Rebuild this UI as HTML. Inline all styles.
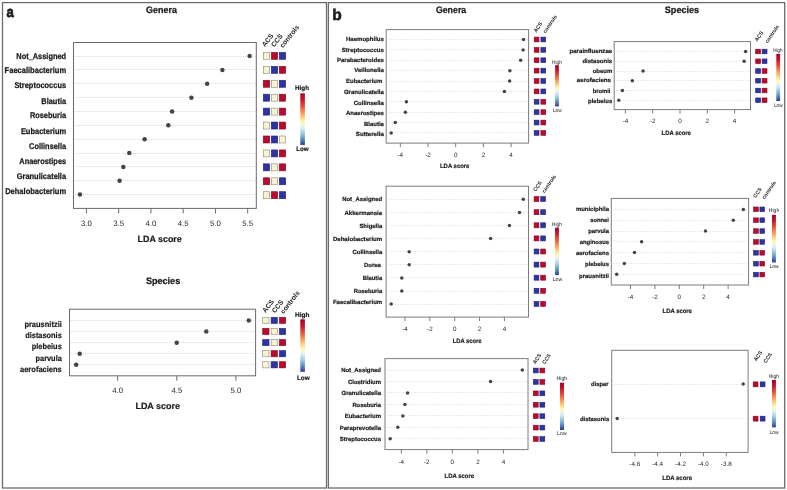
<!DOCTYPE html>
<html><head><meta charset="utf-8"><style>
html,body{margin:0;padding:0;background:#fff;}
body{width:787px;height:490px;overflow:hidden;}
svg{display:block;font-family:"Liberation Sans",sans-serif;will-change:transform;text-rendering:geometricPrecision;}
</style></head><body>
<svg width="787" height="490" viewBox="0 0 787 490" fill="#1a1a1a">
<defs><linearGradient id="grad" x1="0" y1="0" x2="0" y2="1">
<stop offset="0" stop-color="#a50026"/>
<stop offset="0.12" stop-color="#c8152b"/>
<stop offset="0.27" stop-color="#ec5a3a"/>
<stop offset="0.40" stop-color="#fca55d"/>
<stop offset="0.50" stop-color="#fedf8c"/>
<stop offset="0.58" stop-color="#fdfcc4"/>
<stop offset="0.66" stop-color="#dff1f5"/>
<stop offset="0.76" stop-color="#a5d2e5"/>
<stop offset="0.86" stop-color="#6aa0cb"/>
<stop offset="0.94" stop-color="#4369ae"/>
<stop offset="1" stop-color="#303692"/>
</linearGradient></defs>
<rect x="0" y="0" width="787" height="490" fill="#fff"/>
<rect x="2.5" y="2.6" width="324" height="485.4" fill="none" stroke="#6b6b6b" stroke-width="1.3"/>
<rect x="328.4" y="2.6" width="456.3" height="485.4" fill="none" stroke="#6b6b6b" stroke-width="1.3"/>
<text x="0" y="0" font-size="15.2" font-weight="bold" transform="translate(6.6 17.2) scale(0.86 1)" stroke="#1a1a1a" stroke-width="0.7">a</text>
<text x="332.2" y="19.8" font-size="15.6" stroke="#1a1a1a" stroke-width="0.5" font-weight="bold">b</text>
<text x="146.1" y="13.1" font-size="9.4" stroke="#1a1a1a" stroke-width="0.25" font-weight="bold" textLength="30.9" lengthAdjust="spacingAndGlyphs">Genera</text>
<text x="145.9" y="283.6" font-size="9.4" stroke="#1a1a1a" stroke-width="0.25" font-weight="bold" textLength="34.3" lengthAdjust="spacingAndGlyphs">Species</text>
<text x="435.9" y="12.7" font-size="9.4" stroke="#1a1a1a" stroke-width="0.25" font-weight="bold" textLength="30.3" lengthAdjust="spacingAndGlyphs">Genera</text>
<text x="664.8" y="12.7" font-size="9.4" stroke="#1a1a1a" stroke-width="0.25" font-weight="bold" textLength="34.3" lengthAdjust="spacingAndGlyphs">Species</text>
<line x1="75" y1="56.5" x2="255.8" y2="56.5" stroke="#dadada" stroke-width="1" stroke-dasharray="1 1"/>
<line x1="75" y1="69.5" x2="255.8" y2="69.5" stroke="#dadada" stroke-width="1" stroke-dasharray="1 1"/>
<line x1="75" y1="83.5" x2="255.8" y2="83.5" stroke="#dadada" stroke-width="1" stroke-dasharray="1 1"/>
<line x1="75" y1="97.5" x2="255.8" y2="97.5" stroke="#dadada" stroke-width="1" stroke-dasharray="1 1"/>
<line x1="75" y1="111.5" x2="255.8" y2="111.5" stroke="#dadada" stroke-width="1" stroke-dasharray="1 1"/>
<line x1="75" y1="125.5" x2="255.8" y2="125.5" stroke="#dadada" stroke-width="1" stroke-dasharray="1 1"/>
<line x1="75" y1="139.5" x2="255.8" y2="139.5" stroke="#dadada" stroke-width="1" stroke-dasharray="1 1"/>
<line x1="75" y1="153.5" x2="255.8" y2="153.5" stroke="#dadada" stroke-width="1" stroke-dasharray="1 1"/>
<line x1="75" y1="166.5" x2="255.8" y2="166.5" stroke="#dadada" stroke-width="1" stroke-dasharray="1 1"/>
<line x1="75" y1="180.5" x2="255.8" y2="180.5" stroke="#dadada" stroke-width="1" stroke-dasharray="1 1"/>
<line x1="75" y1="194.5" x2="255.8" y2="194.5" stroke="#dadada" stroke-width="1" stroke-dasharray="1 1"/>
<rect x="73.5" y="42.5" width="182.8" height="165.9" fill="none" stroke="#6a6a6a" stroke-width="1"/>
<circle cx="249.6" cy="56.1" r="2.25" fill="#454545"/>
<circle cx="222.4" cy="69.95" r="2.25" fill="#454545"/>
<circle cx="207.1" cy="83.8" r="2.25" fill="#454545"/>
<circle cx="191.4" cy="97.65" r="2.25" fill="#454545"/>
<circle cx="172.1" cy="111.5" r="2.25" fill="#454545"/>
<circle cx="168.3" cy="125.35" r="2.25" fill="#454545"/>
<circle cx="144.6" cy="139.2" r="2.25" fill="#454545"/>
<circle cx="129.3" cy="153.05" r="2.25" fill="#454545"/>
<circle cx="123.3" cy="166.9" r="2.25" fill="#454545"/>
<circle cx="119.6" cy="180.75" r="2.25" fill="#454545"/>
<circle cx="80" cy="194.6" r="2.25" fill="#454545"/>
<line x1="86.4" y1="208.4" x2="86.4" y2="213.4" stroke="#6a6a6a" stroke-width="1"/>
<text x="86.4" y="225.8" font-size="7.8" text-anchor="middle" fill="#2a2a2a">3.0</text>
<line x1="118.66" y1="208.4" x2="118.66" y2="213.4" stroke="#6a6a6a" stroke-width="1"/>
<text x="118.66" y="225.8" font-size="7.8" text-anchor="middle" fill="#2a2a2a">3.5</text>
<line x1="150.92" y1="208.4" x2="150.92" y2="213.4" stroke="#6a6a6a" stroke-width="1"/>
<text x="150.92" y="225.8" font-size="7.8" text-anchor="middle" fill="#2a2a2a">4.0</text>
<line x1="183.18" y1="208.4" x2="183.18" y2="213.4" stroke="#6a6a6a" stroke-width="1"/>
<text x="183.18" y="225.8" font-size="7.8" text-anchor="middle" fill="#2a2a2a">4.5</text>
<line x1="215.44" y1="208.4" x2="215.44" y2="213.4" stroke="#6a6a6a" stroke-width="1"/>
<text x="215.44" y="225.8" font-size="7.8" text-anchor="middle" fill="#2a2a2a">5.0</text>
<line x1="247.7" y1="208.4" x2="247.7" y2="213.4" stroke="#6a6a6a" stroke-width="1"/>
<text x="247.7" y="225.8" font-size="7.8" text-anchor="middle" fill="#2a2a2a">5.5</text>
<text x="137.6" y="241.6" font-size="9" stroke="#1a1a1a" stroke-width="0.2" font-weight="bold" textLength="44.2" lengthAdjust="spacingAndGlyphs">LDA score</text>
<text x="16.3" y="58.6" font-size="8.4" stroke="#1a1a1a" stroke-width="0.25" font-weight="bold" textLength="49.8" lengthAdjust="spacingAndGlyphs">Not_Assigned</text>
<text x="4.6" y="73.1" font-size="8.4" stroke="#1a1a1a" stroke-width="0.25" font-weight="bold" textLength="61.5" lengthAdjust="spacingAndGlyphs">Faecalibacterium</text>
<text x="14.4" y="88.2" font-size="8.4" stroke="#1a1a1a" stroke-width="0.25" font-weight="bold" textLength="51.7" lengthAdjust="spacingAndGlyphs">Streptococcus</text>
<text x="41.3" y="103.5" font-size="8.4" stroke="#1a1a1a" stroke-width="0.25" font-weight="bold" textLength="24.8" lengthAdjust="spacingAndGlyphs">Blautia</text>
<text x="29.9" y="118.4" font-size="8.4" stroke="#1a1a1a" stroke-width="0.25" font-weight="bold" textLength="36.2" lengthAdjust="spacingAndGlyphs">Roseburia</text>
<text x="20.9" y="133.8" font-size="8.4" stroke="#1a1a1a" stroke-width="0.25" font-weight="bold" textLength="45.2" lengthAdjust="spacingAndGlyphs">Eubacterium</text>
<text x="29.1" y="149" font-size="8.4" stroke="#1a1a1a" stroke-width="0.25" font-weight="bold" textLength="37" lengthAdjust="spacingAndGlyphs">Collinsella</text>
<text x="19.3" y="164.2" font-size="8.4" stroke="#1a1a1a" stroke-width="0.25" font-weight="bold" textLength="46.8" lengthAdjust="spacingAndGlyphs">Anaerostipes</text>
<text x="16.7" y="179.2" font-size="8.4" stroke="#1a1a1a" stroke-width="0.25" font-weight="bold" textLength="49.4" lengthAdjust="spacingAndGlyphs">Granulicatella</text>
<text x="5.2" y="194.2" font-size="8.4" stroke="#1a1a1a" stroke-width="0.25" font-weight="bold" textLength="60.9" lengthAdjust="spacingAndGlyphs">Dehalobacterium</text>
<rect x="263.3" y="52.4" width="6.4" height="7" fill="#f9f2d2" stroke="#8a8676" stroke-width="0.6"/>
<rect x="271.3" y="52.4" width="6.4" height="7" fill="#bd0a2c" stroke="#7d0a22" stroke-width="0.6"/>
<rect x="279.3" y="52.4" width="6.4" height="7" fill="#2e34a6" stroke="#1e2370" stroke-width="0.6"/>
<rect x="263.3" y="66.33" width="6.4" height="7" fill="#f9f2d2" stroke="#8a8676" stroke-width="0.6"/>
<rect x="271.3" y="66.33" width="6.4" height="7" fill="#2e34a6" stroke="#1e2370" stroke-width="0.6"/>
<rect x="279.3" y="66.33" width="6.4" height="7" fill="#bd0a2c" stroke="#7d0a22" stroke-width="0.6"/>
<rect x="263.3" y="80.26" width="6.4" height="7" fill="#bd0a2c" stroke="#7d0a22" stroke-width="0.6"/>
<rect x="271.3" y="80.26" width="6.4" height="7" fill="#f9f2d2" stroke="#8a8676" stroke-width="0.6"/>
<rect x="279.3" y="80.26" width="6.4" height="7" fill="#2e34a6" stroke="#1e2370" stroke-width="0.6"/>
<rect x="263.3" y="94.19" width="6.4" height="7" fill="#2e34a6" stroke="#1e2370" stroke-width="0.6"/>
<rect x="271.3" y="94.19" width="6.4" height="7" fill="#f9f2d2" stroke="#8a8676" stroke-width="0.6"/>
<rect x="279.3" y="94.19" width="6.4" height="7" fill="#bd0a2c" stroke="#7d0a22" stroke-width="0.6"/>
<rect x="263.3" y="108.12" width="6.4" height="7" fill="#2e34a6" stroke="#1e2370" stroke-width="0.6"/>
<rect x="271.3" y="108.12" width="6.4" height="7" fill="#f9f2d2" stroke="#8a8676" stroke-width="0.6"/>
<rect x="279.3" y="108.12" width="6.4" height="7" fill="#bd0a2c" stroke="#7d0a22" stroke-width="0.6"/>
<rect x="263.3" y="122.05" width="6.4" height="7" fill="#f9f2d2" stroke="#8a8676" stroke-width="0.6"/>
<rect x="271.3" y="122.05" width="6.4" height="7" fill="#2e34a6" stroke="#1e2370" stroke-width="0.6"/>
<rect x="279.3" y="122.05" width="6.4" height="7" fill="#bd0a2c" stroke="#7d0a22" stroke-width="0.6"/>
<rect x="263.3" y="135.98" width="6.4" height="7" fill="#bd0a2c" stroke="#7d0a22" stroke-width="0.6"/>
<rect x="271.3" y="135.98" width="6.4" height="7" fill="#2e34a6" stroke="#1e2370" stroke-width="0.6"/>
<rect x="279.3" y="135.98" width="6.4" height="7" fill="#f9f2d2" stroke="#8a8676" stroke-width="0.6"/>
<rect x="263.3" y="149.91" width="6.4" height="7" fill="#f9f2d2" stroke="#8a8676" stroke-width="0.6"/>
<rect x="271.3" y="149.91" width="6.4" height="7" fill="#2e34a6" stroke="#1e2370" stroke-width="0.6"/>
<rect x="279.3" y="149.91" width="6.4" height="7" fill="#bd0a2c" stroke="#7d0a22" stroke-width="0.6"/>
<rect x="263.3" y="163.84" width="6.4" height="7" fill="#2e34a6" stroke="#1e2370" stroke-width="0.6"/>
<rect x="271.3" y="163.84" width="6.4" height="7" fill="#f9f2d2" stroke="#8a8676" stroke-width="0.6"/>
<rect x="279.3" y="163.84" width="6.4" height="7" fill="#bd0a2c" stroke="#7d0a22" stroke-width="0.6"/>
<rect x="263.3" y="177.77" width="6.4" height="7" fill="#bd0a2c" stroke="#7d0a22" stroke-width="0.6"/>
<rect x="271.3" y="177.77" width="6.4" height="7" fill="#f9f2d2" stroke="#8a8676" stroke-width="0.6"/>
<rect x="279.3" y="177.77" width="6.4" height="7" fill="#2e34a6" stroke="#1e2370" stroke-width="0.6"/>
<rect x="263.3" y="191.7" width="6.4" height="7" fill="#f9f2d2" stroke="#8a8676" stroke-width="0.6"/>
<rect x="271.3" y="191.7" width="6.4" height="7" fill="#bd0a2c" stroke="#7d0a22" stroke-width="0.6"/>
<rect x="279.3" y="191.7" width="6.4" height="7" fill="#2e34a6" stroke="#1e2370" stroke-width="0.6"/>
<text x="0" y="0" font-size="6.8" font-weight="bold" transform="translate(265 47.3) rotate(-52)">ACS</text>
<text x="0" y="0" font-size="6.8" font-weight="bold" transform="translate(274.2 47.5) rotate(-52)">CCS</text>
<text x="0" y="0" font-size="6.8" font-weight="bold" transform="translate(283 48.3) rotate(-52)">controls</text>
<text x="295.1" y="89.5" font-size="6.4" stroke="#1a1a1a" stroke-width="0.2" font-weight="bold" textLength="13.9" lengthAdjust="spacingAndGlyphs">High</text>
<rect x="300.3" y="93.3" width="4.6" height="51.6" fill="url(#grad)"/>
<text x="296.2" y="150.5" font-size="6.4" stroke="#1a1a1a" stroke-width="0.2" font-weight="bold" textLength="12.5" lengthAdjust="spacingAndGlyphs">Low</text>
<line x1="71" y1="320.5" x2="255.1" y2="320.5" stroke="#dadada" stroke-width="1" stroke-dasharray="1 1"/>
<line x1="71" y1="331.5" x2="255.1" y2="331.5" stroke="#dadada" stroke-width="1" stroke-dasharray="1 1"/>
<line x1="71" y1="342.5" x2="255.1" y2="342.5" stroke="#dadada" stroke-width="1" stroke-dasharray="1 1"/>
<line x1="71" y1="353.5" x2="255.1" y2="353.5" stroke="#dadada" stroke-width="1" stroke-dasharray="1 1"/>
<line x1="71" y1="364.5" x2="255.1" y2="364.5" stroke="#dadada" stroke-width="1" stroke-dasharray="1 1"/>
<rect x="69.5" y="309.2" width="186.1" height="66.6" fill="none" stroke="#6a6a6a" stroke-width="1"/>
<circle cx="248.8" cy="320.5" r="2.25" fill="#454545"/>
<circle cx="206.3" cy="331.58" r="2.25" fill="#454545"/>
<circle cx="176.7" cy="342.66" r="2.25" fill="#454545"/>
<circle cx="79.7" cy="353.74" r="2.25" fill="#454545"/>
<circle cx="76.2" cy="364.82" r="2.25" fill="#454545"/>
<line x1="117.7" y1="375.8" x2="117.7" y2="380.8" stroke="#6a6a6a" stroke-width="1"/>
<text x="117.7" y="393.3" font-size="7.8" text-anchor="middle" fill="#2a2a2a">4.0</text>
<line x1="176.8" y1="375.8" x2="176.8" y2="380.8" stroke="#6a6a6a" stroke-width="1"/>
<text x="176.8" y="393.3" font-size="7.8" text-anchor="middle" fill="#2a2a2a">4.5</text>
<line x1="235.9" y1="375.8" x2="235.9" y2="380.8" stroke="#6a6a6a" stroke-width="1"/>
<text x="235.9" y="393.3" font-size="7.8" text-anchor="middle" fill="#2a2a2a">5.0</text>
<text x="135.4" y="408.7" font-size="9" stroke="#1a1a1a" stroke-width="0.2" font-weight="bold" textLength="44.6" lengthAdjust="spacingAndGlyphs">LDA score</text>
<text x="24.4" y="326.6" font-size="8.1" stroke="#1a1a1a" stroke-width="0.2" font-weight="bold" textLength="37.4" lengthAdjust="spacingAndGlyphs">prausnitzii</text>
<text x="25.2" y="337.9" font-size="8.1" stroke="#1a1a1a" stroke-width="0.2" font-weight="bold" textLength="36.6" lengthAdjust="spacingAndGlyphs">distasonis</text>
<text x="31.7" y="349.4" font-size="8.1" stroke="#1a1a1a" stroke-width="0.2" font-weight="bold" textLength="30.1" lengthAdjust="spacingAndGlyphs">plebeius</text>
<text x="35.5" y="360.6" font-size="8.1" stroke="#1a1a1a" stroke-width="0.2" font-weight="bold" textLength="26.3" lengthAdjust="spacingAndGlyphs">parvula</text>
<text x="20" y="371.6" font-size="8.1" stroke="#1a1a1a" stroke-width="0.2" font-weight="bold" textLength="41.8" lengthAdjust="spacingAndGlyphs">aerofaciens</text>
<rect x="262.7" y="317.3" width="6.3" height="6.2" fill="#f9f2d2" stroke="#8a8676" stroke-width="0.6"/>
<rect x="271.1" y="317.3" width="6.3" height="6.2" fill="#2e34a6" stroke="#1e2370" stroke-width="0.6"/>
<rect x="279.4" y="317.3" width="6.3" height="6.2" fill="#bd0a2c" stroke="#7d0a22" stroke-width="0.6"/>
<rect x="262.7" y="328.4" width="6.3" height="6.2" fill="#bd0a2c" stroke="#7d0a22" stroke-width="0.6"/>
<rect x="271.1" y="328.4" width="6.3" height="6.2" fill="#f9f2d2" stroke="#8a8676" stroke-width="0.6"/>
<rect x="279.4" y="328.4" width="6.3" height="6.2" fill="#2e34a6" stroke="#1e2370" stroke-width="0.6"/>
<rect x="262.7" y="339.5" width="6.3" height="6.2" fill="#2e34a6" stroke="#1e2370" stroke-width="0.6"/>
<rect x="271.1" y="339.5" width="6.3" height="6.2" fill="#f9f2d2" stroke="#8a8676" stroke-width="0.6"/>
<rect x="279.4" y="339.5" width="6.3" height="6.2" fill="#bd0a2c" stroke="#7d0a22" stroke-width="0.6"/>
<rect x="262.7" y="350.6" width="6.3" height="6.2" fill="#f9f2d2" stroke="#8a8676" stroke-width="0.6"/>
<rect x="271.1" y="350.6" width="6.3" height="6.2" fill="#bd0a2c" stroke="#7d0a22" stroke-width="0.6"/>
<rect x="279.4" y="350.6" width="6.3" height="6.2" fill="#2e34a6" stroke="#1e2370" stroke-width="0.6"/>
<rect x="262.7" y="361.7" width="6.3" height="6.2" fill="#f9f2d2" stroke="#8a8676" stroke-width="0.6"/>
<rect x="271.1" y="361.7" width="6.3" height="6.2" fill="#2e34a6" stroke="#1e2370" stroke-width="0.6"/>
<rect x="279.4" y="361.7" width="6.3" height="6.2" fill="#bd0a2c" stroke="#7d0a22" stroke-width="0.6"/>
<text x="0" y="0" font-size="6.8" font-weight="bold" transform="translate(265.5 313.2) rotate(-52)">ACS</text>
<text x="0" y="0" font-size="6.8" font-weight="bold" transform="translate(275 313.6) rotate(-52)">CCS</text>
<text x="0" y="0" font-size="6.8" font-weight="bold" transform="translate(283.6 314.2) rotate(-52)">controls</text>
<text x="295.1" y="316.6" font-size="6.4" stroke="#1a1a1a" stroke-width="0.2" font-weight="bold" textLength="14.5" lengthAdjust="spacingAndGlyphs">High</text>
<rect x="300.3" y="319.3" width="4.6" height="52.5" fill="url(#grad)"/>
<text x="296.9" y="380" font-size="6.4" stroke="#1a1a1a" stroke-width="0.2" font-weight="bold" textLength="12.7" lengthAdjust="spacingAndGlyphs">Low</text>
<line x1="388" y1="39.5" x2="528.1" y2="39.5" stroke="#eaeaea" stroke-width="1" stroke-dasharray="2 1"/>
<line x1="388" y1="49.5" x2="528.1" y2="49.5" stroke="#eaeaea" stroke-width="1" stroke-dasharray="2 1"/>
<line x1="388" y1="60.5" x2="528.1" y2="60.5" stroke="#eaeaea" stroke-width="1" stroke-dasharray="2 1"/>
<line x1="388" y1="70.5" x2="528.1" y2="70.5" stroke="#eaeaea" stroke-width="1" stroke-dasharray="2 1"/>
<line x1="388" y1="81.5" x2="528.1" y2="81.5" stroke="#eaeaea" stroke-width="1" stroke-dasharray="2 1"/>
<line x1="388" y1="91.5" x2="528.1" y2="91.5" stroke="#eaeaea" stroke-width="1" stroke-dasharray="2 1"/>
<line x1="388" y1="101.5" x2="528.1" y2="101.5" stroke="#eaeaea" stroke-width="1" stroke-dasharray="2 1"/>
<line x1="388" y1="112.5" x2="528.1" y2="112.5" stroke="#eaeaea" stroke-width="1" stroke-dasharray="2 1"/>
<line x1="388" y1="122.5" x2="528.1" y2="122.5" stroke="#eaeaea" stroke-width="1" stroke-dasharray="2 1"/>
<line x1="388" y1="132.5" x2="528.1" y2="132.5" stroke="#eaeaea" stroke-width="1" stroke-dasharray="2 1"/>
<rect x="386.2" y="29.6" width="142.4" height="113.5" fill="none" stroke="#7c7c7c" stroke-width="1"/>
<circle cx="523.5" cy="39.5" r="1.75" fill="#454545"/>
<circle cx="523.1" cy="49.88" r="1.75" fill="#454545"/>
<circle cx="520.7" cy="60.26" r="1.75" fill="#454545"/>
<circle cx="509.9" cy="70.64" r="1.75" fill="#454545"/>
<circle cx="509.6" cy="81.02" r="1.75" fill="#454545"/>
<circle cx="504.4" cy="91.4" r="1.75" fill="#454545"/>
<circle cx="406.4" cy="101.78" r="1.75" fill="#454545"/>
<circle cx="405.4" cy="112.16" r="1.75" fill="#454545"/>
<circle cx="395.3" cy="122.54" r="1.75" fill="#454545"/>
<circle cx="391.2" cy="132.92" r="1.75" fill="#454545"/>
<line x1="400.3" y1="143.1" x2="400.3" y2="147.1" stroke="#7c7c7c" stroke-width="1"/>
<text x="400.3" y="157" font-size="6.3" text-anchor="middle" fill="#2a2a2a">-4</text>
<line x1="428" y1="143.1" x2="428" y2="147.1" stroke="#7c7c7c" stroke-width="1"/>
<text x="428" y="157" font-size="6.3" text-anchor="middle" fill="#2a2a2a">-2</text>
<line x1="455.7" y1="143.1" x2="455.7" y2="147.1" stroke="#7c7c7c" stroke-width="1"/>
<text x="455.7" y="157" font-size="6.3" text-anchor="middle" fill="#2a2a2a">0</text>
<line x1="483.4" y1="143.1" x2="483.4" y2="147.1" stroke="#7c7c7c" stroke-width="1"/>
<text x="483.4" y="157" font-size="6.3" text-anchor="middle" fill="#2a2a2a">2</text>
<line x1="511.1" y1="143.1" x2="511.1" y2="147.1" stroke="#7c7c7c" stroke-width="1"/>
<text x="511.1" y="157" font-size="6.3" text-anchor="middle" fill="#2a2a2a">4</text>
<text x="440" y="167.8" font-size="6.3" stroke="#1a1a1a" stroke-width="0.18" font-weight="bold" textLength="29.4" lengthAdjust="spacingAndGlyphs">LDA score</text>
<text x="346" y="41.4" font-size="6" stroke="#1a1a1a" stroke-width="0.2" font-weight="bold" textLength="37.9" lengthAdjust="spacingAndGlyphs">Haemophilus</text>
<text x="341.8" y="51.7" font-size="6" stroke="#1a1a1a" stroke-width="0.2" font-weight="bold" textLength="42.1" lengthAdjust="spacingAndGlyphs">Streptococcus</text>
<text x="336.9" y="62" font-size="6" stroke="#1a1a1a" stroke-width="0.2" font-weight="bold" textLength="47" lengthAdjust="spacingAndGlyphs">Parabacteroides</text>
<text x="354.2" y="72.4" font-size="6" stroke="#1a1a1a" stroke-width="0.2" font-weight="bold" textLength="29.7" lengthAdjust="spacingAndGlyphs">Veillonella</text>
<text x="346" y="83.2" font-size="6" stroke="#1a1a1a" stroke-width="0.2" font-weight="bold" textLength="36.3" lengthAdjust="spacingAndGlyphs">Eubacterium</text>
<text x="343.9" y="94.4" font-size="6" stroke="#1a1a1a" stroke-width="0.2" font-weight="bold" textLength="40" lengthAdjust="spacingAndGlyphs">Granulicatella</text>
<text x="353.7" y="104.8" font-size="6" stroke="#1a1a1a" stroke-width="0.2" font-weight="bold" textLength="30.2" lengthAdjust="spacingAndGlyphs">Collinsella</text>
<text x="346" y="115.3" font-size="6" stroke="#1a1a1a" stroke-width="0.2" font-weight="bold" textLength="37.9" lengthAdjust="spacingAndGlyphs">Anaerostipes</text>
<text x="364" y="125.6" font-size="6" stroke="#1a1a1a" stroke-width="0.2" font-weight="bold" textLength="19.9" lengthAdjust="spacingAndGlyphs">Blautia</text>
<text x="355.8" y="135.5" font-size="6" stroke="#1a1a1a" stroke-width="0.2" font-weight="bold" textLength="28.1" lengthAdjust="spacingAndGlyphs">Sutterella</text>
<rect x="534.2" y="37.1" width="4.8" height="4.8" fill="#bd0a2c" stroke="#7d0a22" stroke-width="0.6"/>
<rect x="540.9" y="37.1" width="4.8" height="4.8" fill="#2e34a6" stroke="#1e2370" stroke-width="0.6"/>
<rect x="534.2" y="47.48" width="4.8" height="4.8" fill="#bd0a2c" stroke="#7d0a22" stroke-width="0.6"/>
<rect x="540.9" y="47.48" width="4.8" height="4.8" fill="#2e34a6" stroke="#1e2370" stroke-width="0.6"/>
<rect x="534.2" y="57.86" width="4.8" height="4.8" fill="#bd0a2c" stroke="#7d0a22" stroke-width="0.6"/>
<rect x="540.9" y="57.86" width="4.8" height="4.8" fill="#2e34a6" stroke="#1e2370" stroke-width="0.6"/>
<rect x="534.2" y="68.24" width="4.8" height="4.8" fill="#bd0a2c" stroke="#7d0a22" stroke-width="0.6"/>
<rect x="540.9" y="68.24" width="4.8" height="4.8" fill="#2e34a6" stroke="#1e2370" stroke-width="0.6"/>
<rect x="534.2" y="78.62" width="4.8" height="4.8" fill="#bd0a2c" stroke="#7d0a22" stroke-width="0.6"/>
<rect x="540.9" y="78.62" width="4.8" height="4.8" fill="#2e34a6" stroke="#1e2370" stroke-width="0.6"/>
<rect x="534.2" y="89" width="4.8" height="4.8" fill="#bd0a2c" stroke="#7d0a22" stroke-width="0.6"/>
<rect x="540.9" y="89" width="4.8" height="4.8" fill="#2e34a6" stroke="#1e2370" stroke-width="0.6"/>
<rect x="534.2" y="99.38" width="4.8" height="4.8" fill="#2e34a6" stroke="#1e2370" stroke-width="0.6"/>
<rect x="540.9" y="99.38" width="4.8" height="4.8" fill="#bd0a2c" stroke="#7d0a22" stroke-width="0.6"/>
<rect x="534.2" y="109.76" width="4.8" height="4.8" fill="#2e34a6" stroke="#1e2370" stroke-width="0.6"/>
<rect x="540.9" y="109.76" width="4.8" height="4.8" fill="#bd0a2c" stroke="#7d0a22" stroke-width="0.6"/>
<rect x="534.2" y="120.14" width="4.8" height="4.8" fill="#2e34a6" stroke="#1e2370" stroke-width="0.6"/>
<rect x="540.9" y="120.14" width="4.8" height="4.8" fill="#bd0a2c" stroke="#7d0a22" stroke-width="0.6"/>
<rect x="534.2" y="130.52" width="4.8" height="4.8" fill="#2e34a6" stroke="#1e2370" stroke-width="0.6"/>
<rect x="540.9" y="130.52" width="4.8" height="4.8" fill="#bd0a2c" stroke="#7d0a22" stroke-width="0.6"/>
<text x="0" y="0" font-size="5.2" font-weight="bold" transform="translate(536.3 32.7) rotate(-55)">ACS</text>
<text x="0" y="0" font-size="5.2" font-weight="bold" transform="translate(545.5 33.5) rotate(-55)">controls</text>
<text x="552" y="63.8" font-size="5.4" textLength="9.8" lengthAdjust="spacingAndGlyphs">High</text>
<rect x="555.1" y="65.2" width="3.8" height="41.2" fill="url(#grad)"/>
<text x="552.9" y="111.8" font-size="5.4" textLength="8.8" lengthAdjust="spacingAndGlyphs">Low</text>
<line x1="616" y1="51.5" x2="750" y2="51.5" stroke="#eaeaea" stroke-width="1" stroke-dasharray="2 1"/>
<line x1="616" y1="61.5" x2="750" y2="61.5" stroke="#eaeaea" stroke-width="1" stroke-dasharray="2 1"/>
<line x1="616" y1="71.5" x2="750" y2="71.5" stroke="#eaeaea" stroke-width="1" stroke-dasharray="2 1"/>
<line x1="616" y1="80.5" x2="750" y2="80.5" stroke="#eaeaea" stroke-width="1" stroke-dasharray="2 1"/>
<line x1="616" y1="90.5" x2="750" y2="90.5" stroke="#eaeaea" stroke-width="1" stroke-dasharray="2 1"/>
<line x1="616" y1="100.5" x2="750" y2="100.5" stroke="#eaeaea" stroke-width="1" stroke-dasharray="2 1"/>
<rect x="614.2" y="41.6" width="136.3" height="68" fill="none" stroke="#7c7c7c" stroke-width="1"/>
<circle cx="745.6" cy="51.5" r="1.75" fill="#454545"/>
<circle cx="744.1" cy="61.25" r="1.75" fill="#454545"/>
<circle cx="643.1" cy="71" r="1.75" fill="#454545"/>
<circle cx="632.3" cy="80.75" r="1.75" fill="#454545"/>
<circle cx="622.4" cy="90.5" r="1.75" fill="#454545"/>
<circle cx="618.8" cy="100.25" r="1.75" fill="#454545"/>
<line x1="625.4" y1="109.6" x2="625.4" y2="113.6" stroke="#7c7c7c" stroke-width="1"/>
<text x="625.4" y="123" font-size="6.3" text-anchor="middle" fill="#2a2a2a">-4</text>
<line x1="652.7" y1="109.6" x2="652.7" y2="113.6" stroke="#7c7c7c" stroke-width="1"/>
<text x="652.7" y="123" font-size="6.3" text-anchor="middle" fill="#2a2a2a">-2</text>
<line x1="680" y1="109.6" x2="680" y2="113.6" stroke="#7c7c7c" stroke-width="1"/>
<text x="680" y="123" font-size="6.3" text-anchor="middle" fill="#2a2a2a">0</text>
<line x1="707.3" y1="109.6" x2="707.3" y2="113.6" stroke="#7c7c7c" stroke-width="1"/>
<text x="707.3" y="123" font-size="6.3" text-anchor="middle" fill="#2a2a2a">2</text>
<line x1="734.6" y1="109.6" x2="734.6" y2="113.6" stroke="#7c7c7c" stroke-width="1"/>
<text x="734.6" y="123" font-size="6.3" text-anchor="middle" fill="#2a2a2a">4</text>
<text x="661.6" y="135.3" font-size="6.3" stroke="#1a1a1a" stroke-width="0.18" font-weight="bold" textLength="29.3" lengthAdjust="spacingAndGlyphs">LDA score</text>
<text x="569.5" y="53.4" font-size="6" stroke="#1a1a1a" stroke-width="0.2" font-weight="bold" textLength="42.7" lengthAdjust="spacingAndGlyphs">parainfluenzae</text>
<text x="582.4" y="63.4" font-size="6" stroke="#1a1a1a" stroke-width="0.2" font-weight="bold" textLength="29.8" lengthAdjust="spacingAndGlyphs">distasonis</text>
<text x="592.7" y="72.9" font-size="6" stroke="#1a1a1a" stroke-width="0.2" font-weight="bold" textLength="19.5" lengthAdjust="spacingAndGlyphs">obeum</text>
<text x="576.8" y="82.4" font-size="6" stroke="#1a1a1a" stroke-width="0.2" font-weight="bold" textLength="34.2" lengthAdjust="spacingAndGlyphs">aerofaciens</text>
<text x="592.7" y="92.8" font-size="6" stroke="#1a1a1a" stroke-width="0.2" font-weight="bold" textLength="17.8" lengthAdjust="spacingAndGlyphs">bromii</text>
<text x="588.1" y="102.8" font-size="6" stroke="#1a1a1a" stroke-width="0.2" font-weight="bold" textLength="24.1" lengthAdjust="spacingAndGlyphs">plebeius</text>
<rect x="755.7" y="49.2" width="4.9" height="4.6" fill="#bd0a2c" stroke="#7d0a22" stroke-width="0.6"/>
<rect x="762.1" y="49.2" width="4.9" height="4.6" fill="#2e34a6" stroke="#1e2370" stroke-width="0.6"/>
<rect x="755.7" y="58.95" width="4.9" height="4.6" fill="#bd0a2c" stroke="#7d0a22" stroke-width="0.6"/>
<rect x="762.1" y="58.95" width="4.9" height="4.6" fill="#2e34a6" stroke="#1e2370" stroke-width="0.6"/>
<rect x="755.7" y="68.7" width="4.9" height="4.6" fill="#2e34a6" stroke="#1e2370" stroke-width="0.6"/>
<rect x="762.1" y="68.7" width="4.9" height="4.6" fill="#bd0a2c" stroke="#7d0a22" stroke-width="0.6"/>
<rect x="755.7" y="78.45" width="4.9" height="4.6" fill="#2e34a6" stroke="#1e2370" stroke-width="0.6"/>
<rect x="762.1" y="78.45" width="4.9" height="4.6" fill="#bd0a2c" stroke="#7d0a22" stroke-width="0.6"/>
<rect x="755.7" y="88.2" width="4.9" height="4.6" fill="#2e34a6" stroke="#1e2370" stroke-width="0.6"/>
<rect x="762.1" y="88.2" width="4.9" height="4.6" fill="#bd0a2c" stroke="#7d0a22" stroke-width="0.6"/>
<rect x="755.7" y="97.95" width="4.9" height="4.6" fill="#2e34a6" stroke="#1e2370" stroke-width="0.6"/>
<rect x="762.1" y="97.95" width="4.9" height="4.6" fill="#bd0a2c" stroke="#7d0a22" stroke-width="0.6"/>
<text x="0" y="0" font-size="5.2" font-weight="bold" transform="translate(757.3 41.7) rotate(-55)">ACS</text>
<text x="0" y="0" font-size="5.2" font-weight="bold" transform="translate(767.5 43.5) rotate(-55)">controls</text>
<text x="773.2" y="51.8" font-size="5.4" textLength="9.5" lengthAdjust="spacingAndGlyphs">High</text>
<rect x="776.3" y="54" width="3.8" height="47" fill="url(#grad)"/>
<text x="773.9" y="106.8" font-size="5.4" textLength="8.8" lengthAdjust="spacingAndGlyphs">Low</text>
<line x1="388" y1="199.5" x2="528" y2="199.5" stroke="#eaeaea" stroke-width="1" stroke-dasharray="2 1"/>
<line x1="388" y1="212.5" x2="528" y2="212.5" stroke="#eaeaea" stroke-width="1" stroke-dasharray="2 1"/>
<line x1="388" y1="225.5" x2="528" y2="225.5" stroke="#eaeaea" stroke-width="1" stroke-dasharray="2 1"/>
<line x1="388" y1="238.5" x2="528" y2="238.5" stroke="#eaeaea" stroke-width="1" stroke-dasharray="2 1"/>
<line x1="388" y1="251.5" x2="528" y2="251.5" stroke="#eaeaea" stroke-width="1" stroke-dasharray="2 1"/>
<line x1="388" y1="264.5" x2="528" y2="264.5" stroke="#eaeaea" stroke-width="1" stroke-dasharray="2 1"/>
<line x1="388" y1="277.5" x2="528" y2="277.5" stroke="#eaeaea" stroke-width="1" stroke-dasharray="2 1"/>
<line x1="388" y1="291.5" x2="528" y2="291.5" stroke="#eaeaea" stroke-width="1" stroke-dasharray="2 1"/>
<line x1="388" y1="304.5" x2="528" y2="304.5" stroke="#eaeaea" stroke-width="1" stroke-dasharray="2 1"/>
<rect x="386.1" y="186.2" width="142.4" height="130.9" fill="none" stroke="#7c7c7c" stroke-width="1"/>
<circle cx="523.3" cy="199.3" r="1.75" fill="#454545"/>
<circle cx="519.5" cy="212.4" r="1.75" fill="#454545"/>
<circle cx="509.4" cy="225.5" r="1.75" fill="#454545"/>
<circle cx="490.6" cy="238.6" r="1.75" fill="#454545"/>
<circle cx="409.2" cy="251.7" r="1.75" fill="#454545"/>
<circle cx="409.2" cy="264.8" r="1.75" fill="#454545"/>
<circle cx="401.8" cy="277.9" r="1.75" fill="#454545"/>
<circle cx="401.8" cy="291" r="1.75" fill="#454545"/>
<circle cx="391.2" cy="304.1" r="1.75" fill="#454545"/>
<line x1="405" y1="317.1" x2="405" y2="321.1" stroke="#7c7c7c" stroke-width="1"/>
<text x="405" y="330.6" font-size="6.3" text-anchor="middle" fill="#2a2a2a">-4</text>
<line x1="429.85" y1="317.1" x2="429.85" y2="321.1" stroke="#7c7c7c" stroke-width="1"/>
<text x="429.85" y="330.6" font-size="6.3" text-anchor="middle" fill="#2a2a2a">-2</text>
<line x1="454.7" y1="317.1" x2="454.7" y2="321.1" stroke="#7c7c7c" stroke-width="1"/>
<text x="454.7" y="330.6" font-size="6.3" text-anchor="middle" fill="#2a2a2a">0</text>
<line x1="479.55" y1="317.1" x2="479.55" y2="321.1" stroke="#7c7c7c" stroke-width="1"/>
<text x="479.55" y="330.6" font-size="6.3" text-anchor="middle" fill="#2a2a2a">2</text>
<line x1="504.4" y1="317.1" x2="504.4" y2="321.1" stroke="#7c7c7c" stroke-width="1"/>
<text x="504.4" y="330.6" font-size="6.3" text-anchor="middle" fill="#2a2a2a">4</text>
<text x="452.8" y="342.8" font-size="6.3" stroke="#1a1a1a" stroke-width="0.18" font-weight="bold" textLength="28.8" lengthAdjust="spacingAndGlyphs">LDA score</text>
<text x="342.2" y="201.3" font-size="6" stroke="#1a1a1a" stroke-width="0.2" font-weight="bold" textLength="40" lengthAdjust="spacingAndGlyphs">Not_Assigned</text>
<text x="344.4" y="214.8" font-size="6" stroke="#1a1a1a" stroke-width="0.2" font-weight="bold" textLength="37.8" lengthAdjust="spacingAndGlyphs">Akkermansia</text>
<text x="359.4" y="228.3" font-size="6" stroke="#1a1a1a" stroke-width="0.2" font-weight="bold" textLength="22.8" lengthAdjust="spacingAndGlyphs">Shigella</text>
<text x="332.9" y="240.8" font-size="6" stroke="#1a1a1a" stroke-width="0.2" font-weight="bold" textLength="49.3" lengthAdjust="spacingAndGlyphs">Dehalobacterium</text>
<text x="352.5" y="253.7" font-size="6" stroke="#1a1a1a" stroke-width="0.2" font-weight="bold" textLength="29.7" lengthAdjust="spacingAndGlyphs">Collinsella</text>
<text x="364" y="266.7" font-size="6" stroke="#1a1a1a" stroke-width="0.2" font-weight="bold" textLength="16.9" lengthAdjust="spacingAndGlyphs">Dorea</text>
<text x="362.7" y="279.6" font-size="6" stroke="#1a1a1a" stroke-width="0.2" font-weight="bold" textLength="19.5" lengthAdjust="spacingAndGlyphs">Blautia</text>
<text x="353.7" y="292.5" font-size="6" stroke="#1a1a1a" stroke-width="0.2" font-weight="bold" textLength="28.5" lengthAdjust="spacingAndGlyphs">Roseburia</text>
<text x="332.9" y="304.4" font-size="6" stroke="#1a1a1a" stroke-width="0.2" font-weight="bold" textLength="49.3" lengthAdjust="spacingAndGlyphs">Faecalibacterium</text>
<rect x="534.1" y="196.6" width="4.8" height="5" fill="#bd0a2c" stroke="#7d0a22" stroke-width="0.6"/>
<rect x="540.7" y="196.6" width="4.8" height="5" fill="#2e34a6" stroke="#1e2370" stroke-width="0.6"/>
<rect x="534.1" y="209.7" width="4.8" height="5" fill="#bd0a2c" stroke="#7d0a22" stroke-width="0.6"/>
<rect x="540.7" y="209.7" width="4.8" height="5" fill="#2e34a6" stroke="#1e2370" stroke-width="0.6"/>
<rect x="534.1" y="222.8" width="4.8" height="5" fill="#bd0a2c" stroke="#7d0a22" stroke-width="0.6"/>
<rect x="540.7" y="222.8" width="4.8" height="5" fill="#2e34a6" stroke="#1e2370" stroke-width="0.6"/>
<rect x="534.1" y="235.9" width="4.8" height="5" fill="#bd0a2c" stroke="#7d0a22" stroke-width="0.6"/>
<rect x="540.7" y="235.9" width="4.8" height="5" fill="#2e34a6" stroke="#1e2370" stroke-width="0.6"/>
<rect x="534.1" y="249" width="4.8" height="5" fill="#2e34a6" stroke="#1e2370" stroke-width="0.6"/>
<rect x="540.7" y="249" width="4.8" height="5" fill="#bd0a2c" stroke="#7d0a22" stroke-width="0.6"/>
<rect x="534.1" y="262.1" width="4.8" height="5" fill="#2e34a6" stroke="#1e2370" stroke-width="0.6"/>
<rect x="540.7" y="262.1" width="4.8" height="5" fill="#bd0a2c" stroke="#7d0a22" stroke-width="0.6"/>
<rect x="534.1" y="275.2" width="4.8" height="5" fill="#2e34a6" stroke="#1e2370" stroke-width="0.6"/>
<rect x="540.7" y="275.2" width="4.8" height="5" fill="#bd0a2c" stroke="#7d0a22" stroke-width="0.6"/>
<rect x="534.1" y="288.3" width="4.8" height="5" fill="#2e34a6" stroke="#1e2370" stroke-width="0.6"/>
<rect x="540.7" y="288.3" width="4.8" height="5" fill="#bd0a2c" stroke="#7d0a22" stroke-width="0.6"/>
<rect x="534.1" y="301.4" width="4.8" height="5" fill="#2e34a6" stroke="#1e2370" stroke-width="0.6"/>
<rect x="540.7" y="301.4" width="4.8" height="5" fill="#bd0a2c" stroke="#7d0a22" stroke-width="0.6"/>
<text x="0" y="0" font-size="5.2" font-weight="bold" transform="translate(535.8 191.7) rotate(-55)">CCS</text>
<text x="0" y="0" font-size="5.2" font-weight="bold" transform="translate(544.5 193.3) rotate(-55)">controls</text>
<text x="551.8" y="225.6" font-size="5.4" textLength="10.2" lengthAdjust="spacingAndGlyphs">High</text>
<rect x="555.1" y="227.6" width="3.8" height="47.5" fill="url(#grad)"/>
<text x="552.7" y="280.8" font-size="5.4" textLength="9.4" lengthAdjust="spacingAndGlyphs">Low</text>
<line x1="613" y1="209.5" x2="748.1" y2="209.5" stroke="#eaeaea" stroke-width="1" stroke-dasharray="2 1"/>
<line x1="613" y1="220.5" x2="748.1" y2="220.5" stroke="#eaeaea" stroke-width="1" stroke-dasharray="2 1"/>
<line x1="613" y1="231.5" x2="748.1" y2="231.5" stroke="#eaeaea" stroke-width="1" stroke-dasharray="2 1"/>
<line x1="613" y1="241.5" x2="748.1" y2="241.5" stroke="#eaeaea" stroke-width="1" stroke-dasharray="2 1"/>
<line x1="613" y1="252.5" x2="748.1" y2="252.5" stroke="#eaeaea" stroke-width="1" stroke-dasharray="2 1"/>
<line x1="613" y1="263.5" x2="748.1" y2="263.5" stroke="#eaeaea" stroke-width="1" stroke-dasharray="2 1"/>
<line x1="613" y1="274.5" x2="748.1" y2="274.5" stroke="#eaeaea" stroke-width="1" stroke-dasharray="2 1"/>
<rect x="611.3" y="198.4" width="137.3" height="86.6" fill="none" stroke="#7c7c7c" stroke-width="1"/>
<circle cx="743.3" cy="209.4" r="1.75" fill="#454545"/>
<circle cx="733.3" cy="220.2" r="1.75" fill="#454545"/>
<circle cx="705.5" cy="231" r="1.75" fill="#454545"/>
<circle cx="641.6" cy="241.8" r="1.75" fill="#454545"/>
<circle cx="634.5" cy="252.6" r="1.75" fill="#454545"/>
<circle cx="624.3" cy="263.4" r="1.75" fill="#454545"/>
<circle cx="616.7" cy="274.2" r="1.75" fill="#454545"/>
<line x1="630.5" y1="285" x2="630.5" y2="289" stroke="#7c7c7c" stroke-width="1"/>
<text x="630.5" y="298.5" font-size="6.3" text-anchor="middle" fill="#2a2a2a">-4</text>
<line x1="654.9" y1="285" x2="654.9" y2="289" stroke="#7c7c7c" stroke-width="1"/>
<text x="654.9" y="298.5" font-size="6.3" text-anchor="middle" fill="#2a2a2a">-2</text>
<line x1="679.3" y1="285" x2="679.3" y2="289" stroke="#7c7c7c" stroke-width="1"/>
<text x="679.3" y="298.5" font-size="6.3" text-anchor="middle" fill="#2a2a2a">0</text>
<line x1="703.7" y1="285" x2="703.7" y2="289" stroke="#7c7c7c" stroke-width="1"/>
<text x="703.7" y="298.5" font-size="6.3" text-anchor="middle" fill="#2a2a2a">2</text>
<line x1="728.1" y1="285" x2="728.1" y2="289" stroke="#7c7c7c" stroke-width="1"/>
<text x="728.1" y="298.5" font-size="6.3" text-anchor="middle" fill="#2a2a2a">4</text>
<text x="662.6" y="313.2" font-size="6.3" stroke="#1a1a1a" stroke-width="0.18" font-weight="bold" textLength="29.3" lengthAdjust="spacingAndGlyphs">LDA score</text>
<text x="575.9" y="211.2" font-size="6" stroke="#1a1a1a" stroke-width="0.2" font-weight="bold" textLength="33.1" lengthAdjust="spacingAndGlyphs">municiphila</text>
<text x="590.2" y="222.2" font-size="6" stroke="#1a1a1a" stroke-width="0.2" font-weight="bold" textLength="18.8" lengthAdjust="spacingAndGlyphs">sonnei</text>
<text x="588.2" y="233.4" font-size="6" stroke="#1a1a1a" stroke-width="0.2" font-weight="bold" textLength="20.8" lengthAdjust="spacingAndGlyphs">parvula</text>
<text x="579.8" y="243.9" font-size="6" stroke="#1a1a1a" stroke-width="0.2" font-weight="bold" textLength="29.2" lengthAdjust="spacingAndGlyphs">anginosus</text>
<text x="575.9" y="254.9" font-size="6" stroke="#1a1a1a" stroke-width="0.2" font-weight="bold" textLength="33.1" lengthAdjust="spacingAndGlyphs">aerofaciens</text>
<text x="585.1" y="266.2" font-size="6" stroke="#1a1a1a" stroke-width="0.2" font-weight="bold" textLength="23.9" lengthAdjust="spacingAndGlyphs">plebeius</text>
<text x="579" y="277.5" font-size="6" stroke="#1a1a1a" stroke-width="0.2" font-weight="bold" textLength="30" lengthAdjust="spacingAndGlyphs">prausnitzii</text>
<rect x="753.6" y="207" width="4.7" height="4.6" fill="#bd0a2c" stroke="#7d0a22" stroke-width="0.6"/>
<rect x="759.9" y="207" width="4.7" height="4.6" fill="#2e34a6" stroke="#1e2370" stroke-width="0.6"/>
<rect x="753.6" y="217.88" width="4.7" height="4.6" fill="#bd0a2c" stroke="#7d0a22" stroke-width="0.6"/>
<rect x="759.9" y="217.88" width="4.7" height="4.6" fill="#2e34a6" stroke="#1e2370" stroke-width="0.6"/>
<rect x="753.6" y="228.76" width="4.7" height="4.6" fill="#bd0a2c" stroke="#7d0a22" stroke-width="0.6"/>
<rect x="759.9" y="228.76" width="4.7" height="4.6" fill="#2e34a6" stroke="#1e2370" stroke-width="0.6"/>
<rect x="753.6" y="239.64" width="4.7" height="4.6" fill="#bd0a2c" stroke="#7d0a22" stroke-width="0.6"/>
<rect x="759.9" y="239.64" width="4.7" height="4.6" fill="#2e34a6" stroke="#1e2370" stroke-width="0.6"/>
<rect x="753.6" y="250.52" width="4.7" height="4.6" fill="#2e34a6" stroke="#1e2370" stroke-width="0.6"/>
<rect x="759.9" y="250.52" width="4.7" height="4.6" fill="#bd0a2c" stroke="#7d0a22" stroke-width="0.6"/>
<rect x="753.6" y="261.4" width="4.7" height="4.6" fill="#2e34a6" stroke="#1e2370" stroke-width="0.6"/>
<rect x="759.9" y="261.4" width="4.7" height="4.6" fill="#bd0a2c" stroke="#7d0a22" stroke-width="0.6"/>
<rect x="753.6" y="272.28" width="4.7" height="4.6" fill="#2e34a6" stroke="#1e2370" stroke-width="0.6"/>
<rect x="759.9" y="272.28" width="4.7" height="4.6" fill="#bd0a2c" stroke="#7d0a22" stroke-width="0.6"/>
<text x="0" y="0" font-size="5.2" font-weight="bold" transform="translate(755.8 198.2) rotate(-55)">CCS</text>
<text x="0" y="0" font-size="5.2" font-weight="bold" transform="translate(764.5 199.5) rotate(-55)">controls</text>
<text x="768.8" y="212.4" font-size="5.4" textLength="10.4" lengthAdjust="spacingAndGlyphs">High</text>
<rect x="772" y="214.9" width="3.9" height="47.5" fill="url(#grad)"/>
<text x="769.4" y="268.2" font-size="5.4" textLength="9.2" lengthAdjust="spacingAndGlyphs">Low</text>
<line x1="387" y1="370.5" x2="527.5" y2="370.5" stroke="#eaeaea" stroke-width="1" stroke-dasharray="2 1"/>
<line x1="387" y1="381.5" x2="527.5" y2="381.5" stroke="#eaeaea" stroke-width="1" stroke-dasharray="2 1"/>
<line x1="387" y1="392.5" x2="527.5" y2="392.5" stroke="#eaeaea" stroke-width="1" stroke-dasharray="2 1"/>
<line x1="387" y1="404.5" x2="527.5" y2="404.5" stroke="#eaeaea" stroke-width="1" stroke-dasharray="2 1"/>
<line x1="387" y1="415.5" x2="527.5" y2="415.5" stroke="#eaeaea" stroke-width="1" stroke-dasharray="2 1"/>
<line x1="387" y1="427.5" x2="527.5" y2="427.5" stroke="#eaeaea" stroke-width="1" stroke-dasharray="2 1"/>
<line x1="387" y1="438.5" x2="527.5" y2="438.5" stroke="#eaeaea" stroke-width="1" stroke-dasharray="2 1"/>
<rect x="385" y="358.6" width="143" height="91" fill="none" stroke="#7c7c7c" stroke-width="1"/>
<circle cx="522.3" cy="370" r="1.75" fill="#454545"/>
<circle cx="490.6" cy="381.47" r="1.75" fill="#454545"/>
<circle cx="407.6" cy="392.94" r="1.75" fill="#454545"/>
<circle cx="404.9" cy="404.41" r="1.75" fill="#454545"/>
<circle cx="402.9" cy="415.88" r="1.75" fill="#454545"/>
<circle cx="397.8" cy="427.35" r="1.75" fill="#454545"/>
<circle cx="390.2" cy="438.82" r="1.75" fill="#454545"/>
<line x1="401.3" y1="449.6" x2="401.3" y2="453.6" stroke="#7c7c7c" stroke-width="1"/>
<text x="401.3" y="463.5" font-size="6.3" text-anchor="middle" fill="#2a2a2a">-4</text>
<line x1="426.83" y1="449.6" x2="426.83" y2="453.6" stroke="#7c7c7c" stroke-width="1"/>
<text x="426.83" y="463.5" font-size="6.3" text-anchor="middle" fill="#2a2a2a">-2</text>
<line x1="452.36" y1="449.6" x2="452.36" y2="453.6" stroke="#7c7c7c" stroke-width="1"/>
<text x="452.36" y="463.5" font-size="6.3" text-anchor="middle" fill="#2a2a2a">0</text>
<line x1="477.89" y1="449.6" x2="477.89" y2="453.6" stroke="#7c7c7c" stroke-width="1"/>
<text x="477.89" y="463.5" font-size="6.3" text-anchor="middle" fill="#2a2a2a">2</text>
<line x1="503.42" y1="449.6" x2="503.42" y2="453.6" stroke="#7c7c7c" stroke-width="1"/>
<text x="503.42" y="463.5" font-size="6.3" text-anchor="middle" fill="#2a2a2a">4</text>
<text x="444.6" y="478.2" font-size="6.3" stroke="#1a1a1a" stroke-width="0.18" font-weight="bold" textLength="29.5" lengthAdjust="spacingAndGlyphs">LDA score</text>
<text x="341.2" y="371.6" font-size="6" stroke="#1a1a1a" stroke-width="0.2" font-weight="bold" textLength="39.8" lengthAdjust="spacingAndGlyphs">Not_Assigned</text>
<text x="348" y="383.5" font-size="6" stroke="#1a1a1a" stroke-width="0.2" font-weight="bold" textLength="33" lengthAdjust="spacingAndGlyphs">Clostridium</text>
<text x="341.6" y="395.2" font-size="6" stroke="#1a1a1a" stroke-width="0.2" font-weight="bold" textLength="39.4" lengthAdjust="spacingAndGlyphs">Granulicatella</text>
<text x="352.4" y="406.6" font-size="6" stroke="#1a1a1a" stroke-width="0.2" font-weight="bold" textLength="28.6" lengthAdjust="spacingAndGlyphs">Roseburia</text>
<text x="344.7" y="418.2" font-size="6" stroke="#1a1a1a" stroke-width="0.2" font-weight="bold" textLength="36.3" lengthAdjust="spacingAndGlyphs">Eubacterium</text>
<text x="339.8" y="430" font-size="6" stroke="#1a1a1a" stroke-width="0.2" font-weight="bold" textLength="41.2" lengthAdjust="spacingAndGlyphs">Paraprevotella</text>
<text x="339.8" y="441.3" font-size="6" stroke="#1a1a1a" stroke-width="0.2" font-weight="bold" textLength="41.2" lengthAdjust="spacingAndGlyphs">Streptococcus</text>
<rect x="533.3" y="368.1" width="4.9" height="4.8" fill="#2e34a6" stroke="#1e2370" stroke-width="0.6"/>
<rect x="539.9" y="368.1" width="4.9" height="4.8" fill="#bd0a2c" stroke="#7d0a22" stroke-width="0.6"/>
<rect x="533.3" y="379.52" width="4.9" height="4.8" fill="#2e34a6" stroke="#1e2370" stroke-width="0.6"/>
<rect x="539.9" y="379.52" width="4.9" height="4.8" fill="#bd0a2c" stroke="#7d0a22" stroke-width="0.6"/>
<rect x="533.3" y="390.94" width="4.9" height="4.8" fill="#bd0a2c" stroke="#7d0a22" stroke-width="0.6"/>
<rect x="539.9" y="390.94" width="4.9" height="4.8" fill="#2e34a6" stroke="#1e2370" stroke-width="0.6"/>
<rect x="533.3" y="402.36" width="4.9" height="4.8" fill="#bd0a2c" stroke="#7d0a22" stroke-width="0.6"/>
<rect x="539.9" y="402.36" width="4.9" height="4.8" fill="#2e34a6" stroke="#1e2370" stroke-width="0.6"/>
<rect x="533.3" y="413.78" width="4.9" height="4.8" fill="#bd0a2c" stroke="#7d0a22" stroke-width="0.6"/>
<rect x="539.9" y="413.78" width="4.9" height="4.8" fill="#2e34a6" stroke="#1e2370" stroke-width="0.6"/>
<rect x="533.3" y="425.2" width="4.9" height="4.8" fill="#bd0a2c" stroke="#7d0a22" stroke-width="0.6"/>
<rect x="539.9" y="425.2" width="4.9" height="4.8" fill="#2e34a6" stroke="#1e2370" stroke-width="0.6"/>
<rect x="533.3" y="436.62" width="4.9" height="4.8" fill="#bd0a2c" stroke="#7d0a22" stroke-width="0.6"/>
<rect x="539.9" y="436.62" width="4.9" height="4.8" fill="#2e34a6" stroke="#1e2370" stroke-width="0.6"/>
<text x="0" y="0" font-size="5.2" font-weight="bold" transform="translate(535.3 364.2) rotate(-55)">ACS</text>
<text x="0" y="0" font-size="5.2" font-weight="bold" transform="translate(544.8 364.5) rotate(-55)">CCS</text>
<text x="556.5" y="380.2" font-size="5.4" textLength="10.8" lengthAdjust="spacingAndGlyphs">High</text>
<rect x="560" y="382.7" width="4" height="47.3" fill="url(#grad)"/>
<text x="557.1" y="435.3" font-size="5.4" textLength="9.6" lengthAdjust="spacingAndGlyphs">Low</text>
<line x1="613" y1="384.5" x2="747.6" y2="384.5" stroke="#eaeaea" stroke-width="1" stroke-dasharray="2 1"/>
<line x1="613" y1="418.5" x2="747.6" y2="418.5" stroke="#eaeaea" stroke-width="1" stroke-dasharray="2 1"/>
<rect x="611.7" y="350.3" width="136.4" height="102.1" fill="none" stroke="#7c7c7c" stroke-width="1"/>
<circle cx="743.2" cy="384" r="1.75" fill="#454545"/>
<circle cx="617.2" cy="418.4" r="1.75" fill="#454545"/>
<line x1="634.8" y1="452.4" x2="634.8" y2="456.4" stroke="#7c7c7c" stroke-width="1"/>
<text x="634.8" y="466" font-size="6.3" text-anchor="middle" fill="#2a2a2a">-4.6</text>
<line x1="657.67" y1="452.4" x2="657.67" y2="456.4" stroke="#7c7c7c" stroke-width="1"/>
<text x="657.67" y="466" font-size="6.3" text-anchor="middle" fill="#2a2a2a">-4.4</text>
<line x1="680.54" y1="452.4" x2="680.54" y2="456.4" stroke="#7c7c7c" stroke-width="1"/>
<text x="680.54" y="466" font-size="6.3" text-anchor="middle" fill="#2a2a2a">-4.2</text>
<line x1="703.41" y1="452.4" x2="703.41" y2="456.4" stroke="#7c7c7c" stroke-width="1"/>
<text x="703.41" y="466" font-size="6.3" text-anchor="middle" fill="#2a2a2a">-4.0</text>
<line x1="726.28" y1="452.4" x2="726.28" y2="456.4" stroke="#7c7c7c" stroke-width="1"/>
<text x="726.28" y="466" font-size="6.3" text-anchor="middle" fill="#2a2a2a">-3.8</text>
<text x="662.3" y="479.8" font-size="6.3" stroke="#1a1a1a" stroke-width="0.18" font-weight="bold" textLength="29.7" lengthAdjust="spacingAndGlyphs">LDA score</text>
<text x="591.1" y="386.4" font-size="6" stroke="#1a1a1a" stroke-width="0.2" font-weight="bold" textLength="17.5" lengthAdjust="spacingAndGlyphs">dispar</text>
<text x="580" y="420.5" font-size="6" stroke="#1a1a1a" stroke-width="0.2" font-weight="bold" textLength="29.2" lengthAdjust="spacingAndGlyphs">distasonis</text>
<rect x="753.2" y="381.9" width="4.8" height="4.9" fill="#bd0a2c" stroke="#7d0a22" stroke-width="0.6"/>
<rect x="760.2" y="381.9" width="4.8" height="4.9" fill="#2e34a6" stroke="#1e2370" stroke-width="0.6"/>
<rect x="753.2" y="416.2" width="4.8" height="4.9" fill="#bd0a2c" stroke="#7d0a22" stroke-width="0.6"/>
<rect x="760.2" y="416.2" width="4.8" height="4.9" fill="#2e34a6" stroke="#1e2370" stroke-width="0.6"/>
<text x="0" y="0" font-size="5.2" font-weight="bold" transform="translate(756.3 361.5) rotate(-55)">ACS</text>
<text x="0" y="0" font-size="5.2" font-weight="bold" transform="translate(766 363.4) rotate(-55)">CCS</text>
<text x="768.7" y="378" font-size="5.4" textLength="10.5" lengthAdjust="spacingAndGlyphs">High</text>
<rect x="772" y="380" width="3.9" height="47.3" fill="url(#grad)"/>
<text x="769.4" y="433.8" font-size="5.4" textLength="9.1" lengthAdjust="spacingAndGlyphs">Low</text>
</svg>
</body></html>
